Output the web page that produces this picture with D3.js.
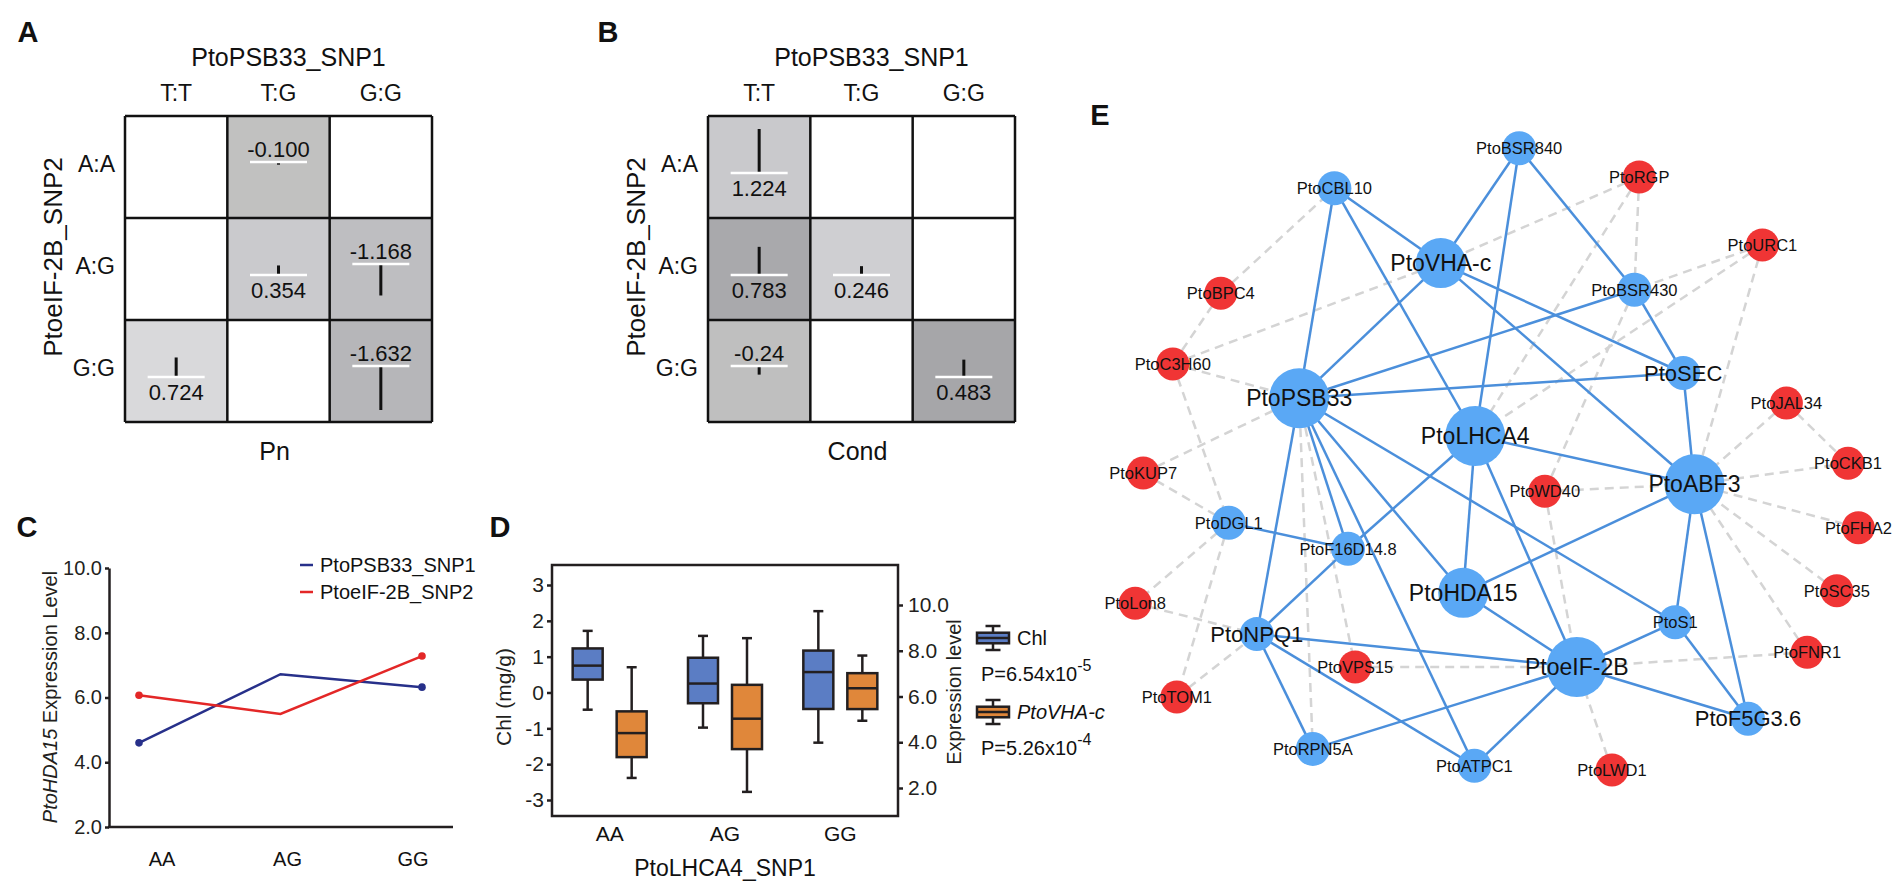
<!DOCTYPE html>
<html>
<head>
<meta charset="utf-8">
<script src="https://cdn.jsdelivr.net/npm/d3@7"></script>
<style>
  body { margin: 0; background: #fff; }
  svg { display: block; font-family: "Liberation Sans", Arial, sans-serif; }
</style>
</head>
<body>
<div id="fig"></div>
<script>
"use strict";

// ---------- data: panels A & B (epistasis grids) ----------
var snp1Genotypes = ["T:T", "T:G", "G:G"];
var snp2Genotypes = ["A:A", "A:G", "G:G"];
// [PtoeIF-2B_SNP2 genotype, PtoPSB33_SNP1 genotype, effect]
var pnCells = [["A:A", "T:G", "-0.100"], ["A:G", "T:G", "0.354"], ["A:G", "G:G", "-1.168"],
               ["G:G", "T:T", "0.724"], ["G:G", "G:G", "-1.632"]];
var condCells = [["A:A", "T:T", "1.224"], ["A:G", "T:T", "0.783"], ["A:G", "T:G", "0.246"],
                 ["G:G", "T:T", "-0.24"], ["G:G", "G:G", "0.483"]];
var pnShades = ["#c1c1c0", "#cacacd", "#bebec1", "#d9d9db", "#b6b6b9"];
var condShades = ["#c9c9cc", "#a9a9ac", "#cfcfd2", "#bfbfbf", "#a6a6a9"];

// ---------- data: panel C ----------
var exprGenotypes = ["AA", "AG", "GG"];
var psb33Expr = [4.6, 6.72, 6.32];
var eif2bExpr = [6.07, 5.49, 7.28];
var exprTicks = [2, 4, 6, 8, 10];

// ---------- data: panel D (whisker low, Q1, median, Q3, whisker high) ----------
var lhca4Genotypes = ["AA", "AG", "GG"];
var chlBoxes = [[-0.48, 0.36, 0.75, 1.23, 1.72], [-0.98, -0.30, 0.25, 0.97, 1.58], [-1.40, -0.46, 0.57, 1.17, 2.27]];
var vhaBoxes = [[2.44, 3.35, 4.40, 5.35, 7.28], [1.83, 3.70, 5.03, 6.51, 8.55], [4.94, 5.45, 6.36, 7.02, 7.79]];
var chlTicks = [-3, -2, -1, 0, 1, 2, 3];
var vhaTicks = [2, 4, 6, 8, 10];

// ---------- data: panel E (network) ----------
var geneNames = ["PtoCBL10", "PtoBSR840", "PtoRGP", "PtoVHA-c", "PtoURC1", "PtoBSR430", "PtoBPC4", "PtoC3H60",
  "PtoSEC", "PtoPSB33", "PtoJAL34", "PtoLHCA4", "PtoCKB1", "PtoKUP7", "PtoABF3", "PtoWD40", "PtoDGL1", "PtoFHA2",
  "PtoF16D14.8", "PtoHDA15", "PtoSC35", "PtoLon8", "PtoS1", "PtoNPQ1", "PtoFNR1", "PtoVPS15", "PtoeIF-2B",
  "PtoTOM1", "PtoF5G3.6", "PtoRPN5A", "PtoATPC1", "PtoLWD1"];
// b = candidate gene (blue), r = partner (red)
var geneGroup = ["b", "b", "r", "b", "r", "b", "r", "r", "b", "b", "r", "b", "r", "r", "b", "r", "b", "r",
  "b", "b", "r", "r", "b", "b", "r", "r", "b", "r", "b", "b", "b", "r"];
// 1 = hub, 2 = large, 3 = medium label, 4 = small
var geneTier = [4, 4, 4, 2, 4, 4, 4, 4, 3, 1, 4, 1, 4, 4, 1, 4, 4, 4, 4, 2, 4, 4, 4, 3, 4, 4, 1, 4, 3, 4, 4, 4];
// layout coordinates, 0-100 units
var layoutX = [29.3, 52.4, 67.4, 42.6, 82.8, 66.8, 15.1, 9.1, 72.9, 24.9, 85.8, 46.9, 93.5, 5.4, 74.3, 55.6, 16.1,
  94.8, 31.0, 45.4, 92.1, 4.4, 71.9, 19.6, 88.4, 31.9, 59.6, 9.6, 81.0, 26.6, 46.8, 64.0];
var layoutY = [12.6, 6.9, 11.0, 23.3, 20.7, 27.1, 27.6, 37.7, 39.0, 42.6, 43.3, 48.0, 51.9, 53.3, 54.9, 55.9, 60.4,
  61.1, 64.1, 70.4, 70.1, 71.9, 74.6, 76.3, 78.9, 81.0, 81.0, 85.3, 88.4, 92.7, 95.1, 95.7];
var solidLinks = [
  ["PtoCBL10", "PtoPSB33"], ["PtoCBL10", "PtoLHCA4"], ["PtoCBL10", "PtoVHA-c"],
  ["PtoBSR840", "PtoVHA-c"], ["PtoBSR840", "PtoLHCA4"], ["PtoBSR840", "PtoBSR430"],
  ["PtoVHA-c", "PtoPSB33"], ["PtoVHA-c", "PtoSEC"], ["PtoVHA-c", "PtoABF3"],
  ["PtoBSR430", "PtoPSB33"], ["PtoBSR430", "PtoSEC"], ["PtoSEC", "PtoPSB33"], ["PtoSEC", "PtoABF3"],
  ["PtoLHCA4", "PtoABF3"], ["PtoLHCA4", "PtoHDA15"], ["PtoLHCA4", "PtoeIF-2B"], ["PtoLHCA4", "PtoF16D14.8"],
  ["PtoPSB33", "PtoS1"], ["PtoPSB33", "PtoHDA15"], ["PtoPSB33", "PtoATPC1"], ["PtoPSB33", "PtoF16D14.8"],
  ["PtoPSB33", "PtoNPQ1"], ["PtoHDA15", "PtoeIF-2B"], ["PtoHDA15", "PtoABF3"],
  ["PtoABF3", "PtoS1"], ["PtoABF3", "PtoF5G3.6"], ["PtoS1", "PtoeIF-2B"], ["PtoS1", "PtoF5G3.6"],
  ["PtoeIF-2B", "PtoF5G3.6"], ["PtoeIF-2B", "PtoNPQ1"], ["PtoeIF-2B", "PtoRPN5A"], ["PtoeIF-2B", "PtoATPC1"],
  ["PtoDGL1", "PtoF16D14.8"], ["PtoF16D14.8", "PtoNPQ1"], ["PtoNPQ1", "PtoRPN5A"], ["PtoNPQ1", "PtoATPC1"]
];
var dashedLinks = [
  ["PtoBPC4", "PtoCBL10"], ["PtoBPC4", "PtoC3H60"], ["PtoC3H60", "PtoVHA-c"], ["PtoC3H60", "PtoPSB33"],
  ["PtoC3H60", "PtoDGL1"], ["PtoKUP7", "PtoPSB33"], ["PtoKUP7", "PtoDGL1"], ["PtoDGL1", "PtoLon8"],
  ["PtoDGL1", "PtoTOM1"], ["PtoLon8", "PtoNPQ1"], ["PtoTOM1", "PtoNPQ1"], ["PtoPSB33", "PtoRPN5A"],
  ["PtoPSB33", "PtoVPS15"], ["PtoVPS15", "PtoeIF-2B"], ["PtoRGP", "PtoVHA-c"], ["PtoRGP", "PtoBSR430"],
  ["PtoRGP", "PtoLHCA4"], ["PtoURC1", "PtoBSR430"], ["PtoURC1", "PtoLHCA4"], ["PtoURC1", "PtoABF3"],
  ["PtoBSR430", "PtoWD40"], ["PtoWD40", "PtoABF3"], ["PtoWD40", "PtoeIF-2B"], ["PtoJAL34", "PtoABF3"],
  ["PtoJAL34", "PtoCKB1"], ["PtoCKB1", "PtoABF3"], ["PtoFHA2", "PtoABF3"], ["PtoSC35", "PtoABF3"],
  ["PtoFNR1", "PtoABF3"], ["PtoFNR1", "PtoeIF-2B"], ["PtoLWD1", "PtoeIF-2B"]
];

// ---------- styles ----------
var ink = "#231f20";
var tierRadius = {1: 30, 2: 25, 3: 17, 4: 17};
var tierFont = {1: 23, 2: 23, 3: 22, 4: 16.5};
var nodeFill = {b: "#5aa8f5", r: "#f03535"};

var svg = d3.select("#fig").append("svg").attr("width", 1904).attr("height", 887);
svg.append("rect").attr("width", 1904).attr("height", 887).attr("fill", "#fff");

function panelLetter(t, x, y) {
    svg.append("text").attr("x", x).attr("y", y).attr("text-anchor", "middle")
        .attr("font-size", 29).attr("font-weight", "bold").attr("fill", "#111").text(t);
}

function label(g, t, x, y, size, anchor) {
    return g.append("text").attr("x", x).attr("y", y).attr("font-size", size)
        .attr("text-anchor", anchor || "middle").attr("dominant-baseline", "central")
        .attr("fill", "#111").text(t);
}

////////////////////////////////////////////////
// Panels A & B
function drawEpistasis(x0, cells, shades, traitName) {
    var g = svg.append("g");
    var top = 116, size = 307, h = 306;
    var x = d3.scaleBand().domain(snp1Genotypes).range([x0, x0 + size]);
    var y = d3.scaleBand().domain(snp2Genotypes).range([top, top + h]);
    var maxAbs = d3.max(cells, function (c) { return Math.abs(+c[2]); });
    var bar = d3.scaleLinear().domain([0, maxAbs]).range([0, 44]);

    g.append("rect").attr("x", x0).attr("y", top).attr("width", size).attr("height", h).attr("fill", "#fff");

    var cell = g.selectAll("g.cell").data(cells).enter().append("g").attr("class", "cell");
    cell.append("rect")
        .attr("x", function (d) { return x(d[1]); })
        .attr("y", function (d) { return y(d[0]); })
        .attr("width", x.bandwidth()).attr("height", y.bandwidth())
        .attr("fill", function (d, i) { return shades[i]; });

    cell.each(function (d) {
        var v = +d[2];
        var cx = x(d[1]) + x.bandwidth() / 2;
        var base = y(d[0]) + y.bandwidth() / 2 + (v >= 0 ? 6 : -5);
        var len = Math.max(2, bar(Math.abs(v)));
        var c = d3.select(this);
        c.append("rect").attr("x", cx - 1.5).attr("width", 3)
            .attr("y", v >= 0 ? base - len : base).attr("height", len).attr("fill", "#111");
        c.append("line").attr("x1", cx - 28.5).attr("x2", cx + 28.5).attr("y1", base).attr("y2", base)
            .attr("stroke", "#fff").attr("stroke-width", 2.5);
        label(c, d[2], cx, v >= 0 ? base + 15 : base - 13, 22);
    });

    // grid
    var xs = snp1Genotypes.map(function (k) { return x(k); }).concat([x0 + size]);
    var ys = snp2Genotypes.map(function (k) { return y(k); }).concat([top + h]);
    g.selectAll("line.v").data(xs).enter().append("line")
        .attr("x1", function (d) { return d; }).attr("x2", function (d) { return d; })
        .attr("y1", top).attr("y2", top + h).attr("stroke", "#111").attr("stroke-width", 2.5);
    g.selectAll("line.h").data(ys).enter().append("line")
        .attr("y1", function (d) { return d; }).attr("y2", function (d) { return d; })
        .attr("x1", x0).attr("x2", x0 + size).attr("stroke", "#111").attr("stroke-width", 2.5);

    label(g, "PtoPSB33_SNP1", x0 + size / 2 + 10, 57, 25);
    snp1Genotypes.forEach(function (k) { label(g, k, x(k) + x.bandwidth() / 2, 93, 23); });
    snp2Genotypes.forEach(function (k) { label(g, k, x0 - 10, y(k) + y.bandwidth() / 2 - 3, 23, "end"); });
    g.append("text").attr("transform", "translate(" + (x0 - 72) + "," + (top + h / 2 - 12) + ") rotate(-90)")
        .attr("text-anchor", "middle").attr("dominant-baseline", "central").attr("font-size", 26)
        .attr("fill", "#111").text("PtoeIF-2B_SNP2");
    label(g, traitName, x0 + size / 2 - 4, 451, 25);
}

drawEpistasis(125, pnCells, pnShades, "Pn");
drawEpistasis(708, condCells, condShades, "Cond");
panelLetter("A", 28, 42);
panelLetter("B", 608, 42);

////////////////////////////////////////////////
// Panel C
var gC = svg.append("g");
var xC = d3.scalePoint().domain(exprGenotypes).range([139, 422]);
var xCLab = d3.scalePoint().domain(exprGenotypes).range([162, 413]);
var yC = d3.scaleLinear().domain([2, 10]).range([827, 568]);

var axC = gC.append("g").attr("transform", "translate(109,0)")
    .call(d3.axisLeft(yC).tickValues(exprTicks).tickFormat(d3.format(".1f")).tickSize(4).tickSizeOuter(0).tickPadding(3));
axC.selectAll("path, line").attr("stroke", ink).attr("stroke-width", 2.5);
axC.selectAll("text").attr("font-size", 20).attr("fill", ink).attr("font-family", null);
gC.append("line").attr("x1", 108).attr("x2", 453).attr("y1", yC(2)).attr("y2", yC(2))
    .attr("stroke", ink).attr("stroke-width", 2.5);
exprGenotypes.forEach(function (k) { label(gC, k, xCLab(k), 859, 20); });

var exprSeries = [
    {name: "PtoPSB33_SNP1", values: psb33Expr, color: "#27308a"},
    {name: "PtoeIF-2B_SNP2", values: eif2bExpr, color: "#e32727"}
];
var lineC = d3.line().x(function (d, i) { return xC(exprGenotypes[i]); }).y(function (d) { return yC(d); });
exprSeries.forEach(function (s, si) {
    gC.append("path").attr("d", lineC(s.values)).attr("fill", "none")
        .attr("stroke", s.color).attr("stroke-width", 2.5);
    gC.selectAll(null).data([0, s.values.length - 1]).enter().append("circle")
        .attr("cx", function (i) { return xC(exprGenotypes[i]); })
        .attr("cy", function (i) { return yC(s.values[i]); })
        .attr("r", 3.8).attr("fill", s.color);
    var ly = 565 + si * 27;
    gC.append("line").attr("x1", 300).attr("x2", 313).attr("y1", ly).attr("y2", ly)
        .attr("stroke", s.color).attr("stroke-width", 2.5);
    label(gC, s.name, 320, ly, 20, "start");
});
var tC = gC.append("text").attr("transform", "translate(50,697) rotate(-90)")
    .attr("text-anchor", "middle").attr("dominant-baseline", "central").attr("font-size", 20).attr("fill", ink);
tC.append("tspan").attr("font-style", "italic").text("PtoHDA15");
tC.append("tspan").text(" Expression Level");
panelLetter("C", 27, 537);

////////////////////////////////////////////////
// Panel D
var gD = svg.append("g");
var frame = {x0: 552, x1: 898, y0: 565, y1: 816};
var xD = d3.scaleBand().domain(lhca4Genotypes).range([frame.x0, frame.x1]);
var yChl = d3.scaleLinear().domain([-3, 3]).range([800, 585]);
var yVha = d3.scaleLinear().domain([2, 10]).range([788, 605]);
var sub = d3.scalePoint().domain(["Chl", "PtoVHA-c"]).range([-22, 22]);
var boxColor = {"Chl": "#5b7dc4", "PtoVHA-c": "#e0873a"};

function drawBox(g, cx, s, scale, fill, bw, cap) {
    g.append("line").attr("x1", cx).attr("x2", cx).attr("y1", scale(s[0])).attr("y2", scale(s[1]))
        .attr("stroke", ink).attr("stroke-width", 2.5);
    g.append("line").attr("x1", cx).attr("x2", cx).attr("y1", scale(s[3])).attr("y2", scale(s[4]))
        .attr("stroke", ink).attr("stroke-width", 2.5);
    [s[0], s[4]].forEach(function (v) {
        g.append("line").attr("x1", cx - cap).attr("x2", cx + cap)
            .attr("y1", scale(v)).attr("y2", scale(v)).attr("stroke", ink).attr("stroke-width", 2.5);
    });
    g.append("rect").attr("x", cx - bw / 2).attr("width", bw)
        .attr("y", scale(s[3])).attr("height", scale(s[1]) - scale(s[3]))
        .attr("fill", fill).attr("stroke", ink).attr("stroke-width", 2.5);
    g.append("line").attr("x1", cx - bw / 2).attr("x2", cx + bw / 2)
        .attr("y1", scale(s[2])).attr("y2", scale(s[2])).attr("stroke", ink).attr("stroke-width", 2.5);
}

lhca4Genotypes.forEach(function (k, i) {
    var c = xD(k) + xD.bandwidth() / 2;
    drawBox(gD, c + sub("Chl"), chlBoxes[i], yChl, boxColor["Chl"], 30, 5);
    drawBox(gD, c + sub("PtoVHA-c"), vhaBoxes[i], yVha, boxColor["PtoVHA-c"], 30, 5);
    label(gD, k, c, 833, 21);
});
gD.append("rect").attr("x", frame.x0).attr("y", frame.y0)
    .attr("width", frame.x1 - frame.x0).attr("height", frame.y1 - frame.y0)
    .attr("fill", "none").attr("stroke", ink).attr("stroke-width", 2.5);

var axL = gD.append("g").attr("transform", "translate(" + frame.x0 + ",0)")
    .call(d3.axisLeft(yChl).tickValues(chlTicks).tickFormat(function (d) { return String(d); })
        .tickSize(5).tickSizeOuter(0).tickPadding(3));
var axR = gD.append("g").attr("transform", "translate(" + frame.x1 + ",0)")
    .call(d3.axisRight(yVha).tickValues(vhaTicks).tickFormat(d3.format(".1f")).tickSize(5).tickSizeOuter(0).tickPadding(5));
[axL, axR].forEach(function (a) {
    a.select(".domain").remove();
    a.selectAll("line").attr("stroke", ink).attr("stroke-width", 2.5);
    a.selectAll("text").attr("font-size", 21).attr("fill", ink).attr("font-family", null);
});
gD.append("text").attr("transform", "translate(503,697) rotate(-90)").attr("text-anchor", "middle")
    .attr("dominant-baseline", "central").attr("font-size", 21).attr("fill", ink).text("Chl (mg/g)");
gD.append("text").attr("transform", "translate(954,692) rotate(-90)").attr("text-anchor", "middle")
    .attr("dominant-baseline", "central").attr("font-size", 20).attr("fill", ink).text("Expression level");
label(gD, "PtoLHCA4_SNP1", 725, 868, 23);

// legend
var legendItems = [
    {name: "Chl", italic: false, p: "P=6.54x10", e: "-5", y: 638},
    {name: "PtoVHA-c", italic: true, p: "P=5.26x10", e: "-4", y: 712}
];
legendItems.forEach(function (d) {
    var lg = gD.append("g");
    var iconScale = d3.scaleLinear().domain([0, 1]).range([d.y + 12, d.y - 12]);
    drawBox(lg, 993, [0, 0.28, 0.5, 0.72, 1], iconScale, boxColor[d.name], 32, 7.5);
    label(lg, d.name, 1017, d.y, 20, "start").attr("font-style", d.italic ? "italic" : null);
    var pt = label(lg, d.p, 981, d.y + 36, 20, "start");
    pt.append("tspan").attr("dy", -9).attr("font-size", 16).text(d.e);
});
panelLetter("D", 500, 537);

////////////////////////////////////////////////
// Panel E (network)
var gE = svg.append("g");
var nx = d3.scaleLinear().domain([0, 100]).range([1100, 1900]);
var ny = d3.scaleLinear().domain([0, 100]).range([100, 800]);
var nodes = geneNames.map(function (n, i) {
    return {id: n, group: geneGroup[i], tier: geneTier[i], x: nx(layoutX[i]), y: ny(layoutY[i])};
});
var byId = {};
nodes.forEach(function (n) { byId[n.id] = n; });

gE.selectAll("line.dash").data(dashedLinks).enter().append("line")
    .attr("x1", function (d) { return byId[d[0]].x; }).attr("y1", function (d) { return byId[d[0]].y; })
    .attr("x2", function (d) { return byId[d[1]].x; }).attr("y2", function (d) { return byId[d[1]].y; })
    .attr("stroke", "#d4d4d4").attr("stroke-width", 2.5).attr("stroke-dasharray", "9,6");
gE.selectAll("line.solid").data(solidLinks).enter().append("line")
    .attr("x1", function (d) { return byId[d[0]].x; }).attr("y1", function (d) { return byId[d[0]].y; })
    .attr("x2", function (d) { return byId[d[1]].x; }).attr("y2", function (d) { return byId[d[1]].y; })
    .attr("stroke", "#4b8fdb").attr("stroke-width", 2.5);
gE.selectAll("circle").data(nodes).enter().append("circle")
    .attr("cx", function (d) { return d.x; }).attr("cy", function (d) { return d.y; })
    .attr("r", function (d) { return d.group === "r" ? 16.5 : tierRadius[d.tier]; })
    .attr("fill", function (d) { return nodeFill[d.group]; });
gE.selectAll("text").data(nodes).enter().append("text")
    .attr("x", function (d) { return d.x; }).attr("y", function (d) { return d.y; })
    .attr("text-anchor", "middle").attr("dominant-baseline", "central")
    .attr("font-size", function (d) { return tierFont[d.tier]; })
    .attr("fill", "#111").text(function (d) { return d.id; });
panelLetter("E", 1100, 125);
</script>
</body>
</html>
